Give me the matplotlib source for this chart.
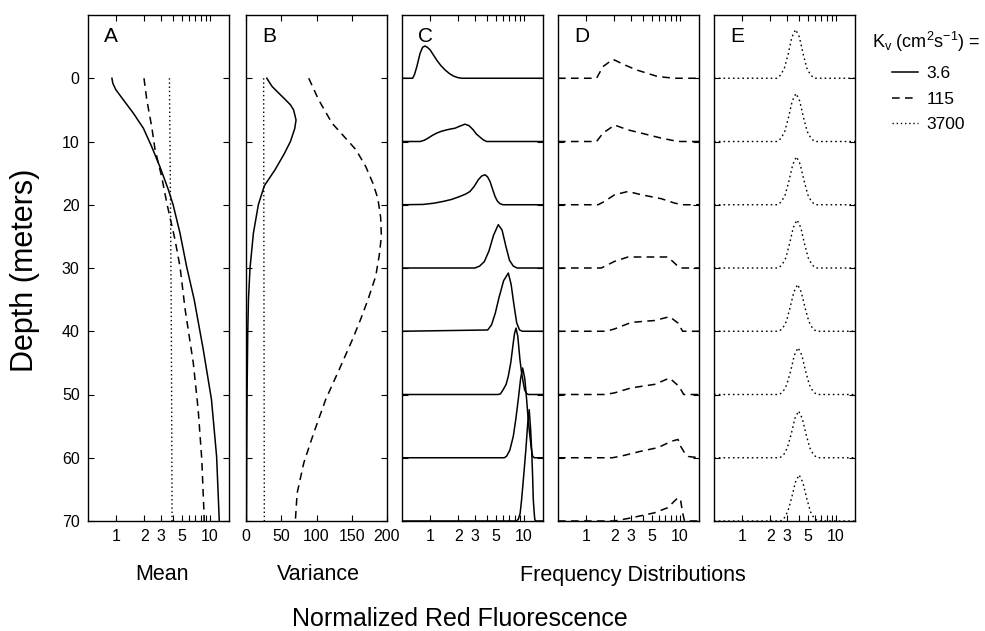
import matplotlib
matplotlib.use('Agg')
import matplotlib.pyplot as plt
from matplotlib.ticker import FixedLocator, NullLocator

plt.rcParams['font.family'] = ['Liberation Sans', 'DejaVu Sans']
plt.rcParams['mathtext.fontset'] = 'custom'
plt.rcParams['mathtext.rm'] = 'Liberation Sans'
plt.rcParams['mathtext.it'] = 'Liberation Sans:italic'

# ---------------- data ----------------
kv_labels = ['3.6', '115', '3700']
panel_letters = ['A', 'B', 'C', 'D', 'E']
depth_ticks = [0, 10, 20, 30, 40, 50, 60, 70]
log_ticks = [1, 2, 3, 4, 5, 6, 7, 8, 9, 10]
log_tick_labels = ['1', '2', '3', '', '5', '', '', '', '', '10']
var_ticks = [0, 50, 100, 150, 200]
var_tick_labels = ['0', '50', '100', '150', '200']

# Panel A: mean vs depth
mean_depth_36 = [0, 0.8, 1.8, 3.4, 5.5, 7.9, 10.8, 14, 17.6, 20, 24.5, 29.8, 35, 42.9, 50.8, 59.8, 70]
mean_val_36 = [0.9, 0.92, 0.99, 1.19, 1.52, 1.95, 2.39, 2.93, 3.6, 4.05, 4.8, 5.65, 6.8, 8.5, 10.4, 11.8, 12.6]
mean_depth_115 = [0, 3.4, 7.6, 11.3, 15.5, 20, 25.5, 29.8, 36.6, 45, 52.4, 60.3, 68.7, 70]
mean_val_115 = [1.98, 2.12, 2.39, 2.6, 3.05, 3.5, 4.24, 4.8, 5.45, 6.65, 7.5, 8.2, 8.65, 8.7]
mean_depth_3700 = [0, 20, 40, 70]
mean_val_3700 = [3.7, 3.8, 3.88, 3.95]

# Panel B: variance vs depth
var_depth_36 = [0, 1.3, 2.3, 3.4, 4.2, 5, 6.6, 8, 10, 12, 14.5, 17, 20, 24.5, 30, 35, 40, 50, 60, 70]
var_val_36 = [29.5, 37, 46, 56, 63, 67.5, 71, 69, 63, 54, 41, 26, 17.5, 10.5, 5.7, 3.5, 2.5, 1.5, 1, 0.7]
var_depth_115 = [0, 3.4, 7.1, 11.3, 14, 16.6, 19, 22, 25, 28, 31.3, 35, 38, 41.3, 46.1, 50.8, 56.1, 60.8, 65.6, 70]
var_val_115 = [89, 103, 122, 156, 170, 180, 187, 191, 192, 189, 184, 173, 163, 151, 132, 113, 96, 82, 72.5, 70]
var_depth_3700 = [0, 35, 70]
var_val_3700 = [25, 25.5, 26]

# Frequency distributions (baseline depths, x values, heights in depth units)
freq_depths = [0, 10, 20, 30, 40, 50, 60, 70]

c_x = [
    [0.5, 0.65, 0.68, 0.72, 0.78, 0.83, 0.88, 0.94, 1.0, 1.08, 1.17, 1.3, 1.44, 1.6, 1.76, 1.95, 2.17, 16],
    [0.5, 0.78, 0.86, 0.95, 1.05, 1.17, 1.32, 1.5, 1.66, 1.84, 2.05, 2.35, 2.6, 2.88, 3.1, 3.4, 3.7, 4.0, 16],
    [0.5, 0.84, 1.1, 1.38, 1.7, 2.08, 2.4, 2.66, 2.95, 3.26, 3.55, 3.85, 4.1, 4.35, 4.62, 4.92, 5.2, 5.56, 6.0, 16],
    [0.5, 3.0, 3.37, 3.78, 4.24, 4.75, 5.33, 5.85, 6.41, 7.03, 7.71, 8.45, 16],
    [0.5, 4.11, 4.51, 4.94, 5.42, 6.08, 6.82, 7.31, 7.83, 8.39, 9.0, 9.64, 16],
    [0.5, 5.3, 5.62, 6.03, 6.46, 6.82, 7.24, 7.71, 7.94, 8.24, 8.61, 9.08, 9.44, 9.86, 10.2, 10.7, 11.2, 16],
    [0.5, 6.2, 6.55, 7.08, 7.71, 8.22, 8.71, 9.23, 9.7, 10.23, 10.7, 11.2, 11.6, 12.0, 12.4, 12.9, 16],
    [0.5, 8.32, 8.71, 9.12, 9.46, 10.0, 10.5, 11.0, 11.4, 11.8, 12.1, 12.4, 12.6, 12.9, 13.1, 13.5, 16],
]
c_h = [
    [0, 0, 0.6, 1.84, 3.95, 4.9, 5.1, 4.85, 4.47, 3.7, 2.9, 2.0, 1.32, 0.75, 0.37, 0.12, 0, 0],
    [0, 0, 0.18, 0.53, 0.95, 1.32, 1.62, 1.84, 1.98, 2.1, 2.4, 2.74, 2.5, 1.84, 1.2, 0.69, 0.25, 0, 0],
    [0, 0.05, 0.25, 0.53, 0.85, 1.32, 1.7, 2.1, 2.9, 3.95, 4.55, 4.74, 4.4, 3.69, 2.5, 1.32, 0.6, 0.16, 0, 0],
    [0, 0, 0.3, 1.0, 2.7, 5.2, 6.85, 6.0, 3.5, 1.2, 0.3, 0, 0],
    [0, 0.2, 1.0, 2.8, 5.3, 8.0, 9.2, 7.4, 4.2, 1.3, 0.2, 0, 0],
    [0, 0, 0.1, 0.79, 1.6, 2.9, 5.0, 8.2, 9.6, 10.5, 9.2, 5.5, 3.5, 1.84, 0.7, 0.16, 0, 0],
    [0, 0, 0.26, 1.2, 3.4, 6.2, 9.2, 12.5, 14.2, 12.5, 9.2, 5.5, 3.4, 1.5, 0.26, 0, 0],
    [0, 0, 0.26, 1.2, 3.4, 7.5, 11.3, 15.5, 17.6, 14.5, 11.3, 7.0, 3.4, 1.2, 0.16, 0, 0],
]

d_x = [
    [0.5, 1.29, 1.51, 1.93, 2.58, 3.44, 5.83, 8.79, 16],
    [0.5, 1.29, 1.51, 2.01, 2.79, 3.88, 6.35, 9.55, 16],
    [0.5, 1.34, 1.57, 2.01, 2.79, 3.88, 6.35, 8.79, 10.7, 16],
    [0.5, 1.45, 2.01, 2.79, 4.57, 7.46, 9.55, 10.2, 16],
    [0.5, 1.64, 2.01, 3.03, 5.37, 7.76, 9.55, 10.7, 16],
    [0.5, 1.6, 2.01, 3.03, 5.37, 7.76, 9.77, 11.0, 16],
    [0.5, 1.9, 2.37, 3.88, 5.83, 8.13, 9.55, 10.2, 11.2, 12.3, 16],
    [0.5, 2.01, 3.03, 5.37, 7.41, 9.55, 10.2, 10.7, 11.2, 16],
]
d_h = [
    [0, 0, 1.84, 3.0, 2.1, 1.32, 0.26, 0, 0],
    [0, 0, 1.32, 2.6, 1.84, 1.32, 0.53, 0, 0],
    [0, 0, 0.53, 1.58, 2.1, 1.58, 0.95, 0.26, 0, 0],
    [0, 0, 1.05, 1.74, 1.74, 1.74, 0.26, 0, 0],
    [0, 0, 0.37, 1.4, 1.7, 2.3, 1.3, 0, 0],
    [0, 0, 0.26, 1.05, 1.6, 2.6, 1.3, 0, 0],
    [0, 0, 0.26, 1.05, 1.6, 2.6, 2.9, 1.8, 0.8, 0.2, 0],
    [0, 0, 0.5, 1.3, 2.1, 3.7, 3.2, 1.3, 0, 0],
]

e_x = [
    [0.5, 2.35, 2.57, 2.82, 3.10, 3.39, 3.72, 4.08, 4.47, 4.90, 5.38, 5.90, 16],
    [0.5, 2.37, 2.60, 2.85, 3.12, 3.42, 3.75, 4.11, 4.51, 4.94, 5.42, 5.94, 16],
    [0.5, 2.40, 2.63, 2.88, 3.16, 3.47, 3.80, 4.16, 4.57, 5.01, 5.49, 6.02, 16],
    [0.5, 2.43, 2.66, 2.92, 3.20, 3.51, 3.85, 4.22, 4.63, 5.07, 5.56, 6.10, 16],
    [0.5, 2.46, 2.70, 2.96, 3.24, 3.56, 3.90, 4.27, 4.69, 5.14, 5.64, 6.18, 16],
    [0.5, 2.49, 2.73, 2.99, 3.29, 3.60, 3.95, 4.33, 4.75, 5.21, 5.71, 6.26, 16],
    [0.5, 2.52, 2.77, 3.03, 3.33, 3.65, 4.00, 4.38, 4.81, 5.27, 5.78, 6.34, 16],
    [0.5, 2.56, 2.80, 3.07, 3.37, 3.69, 4.05, 4.44, 4.87, 5.34, 5.85, 6.42, 16],
]
e_h = [
    [0, 0, 0.5, 1.6, 3.85, 6.5, 7.7, 6.5, 3.85, 1.6, 0.5, 0, 0],
    [0, 0, 0.5, 1.6, 3.8, 6.4, 7.6, 6.4, 3.8, 1.6, 0.5, 0, 0],
    [0, 0, 0.5, 1.6, 3.8, 6.4, 7.6, 6.4, 3.8, 1.6, 0.5, 0, 0],
    [0, 0, 0.5, 1.6, 3.8, 6.4, 7.6, 6.4, 3.8, 1.6, 0.5, 0, 0],
    [0, 0, 0.45, 1.55, 3.7, 6.2, 7.4, 6.2, 3.7, 1.55, 0.45, 0, 0],
    [0, 0, 0.45, 1.55, 3.7, 6.2, 7.4, 6.2, 3.7, 1.55, 0.45, 0, 0],
    [0, 0, 0.45, 1.55, 3.7, 6.2, 7.4, 6.2, 3.7, 1.55, 0.45, 0, 0],
    [0, 0, 0.45, 1.5, 3.65, 6.1, 7.3, 6.1, 3.65, 1.5, 0.45, 0, 0],
]

# ---------------- styles ----------------
W, H = 985, 631
LW = 1.1
style_solid = dict(color='black', lw=LW, linestyle='-')
style_dash = dict(color='black', lw=LW, linestyle=(0, (5, 3.5)))
style_dot = dict(color='black', lw=1.0, linestyle=(0, (1, 2)))
style_dot_e = dict(color='black', lw=1.0, linestyle=(0, (1.2, 2.2)))

fig = plt.figure(figsize=(W / 100, H / 100), dpi=100)
lefts = [88, 246, 402, 558, 714]
ax_w = 141
top_px, bot_px = 15, 521

axes = []
for i, lp in enumerate(lefts):
    ax = fig.add_axes([lp / W, 1 - bot_px / H, ax_w / W, (bot_px - top_px) / H])
    ax.set_ylim(70, -10)
    ax.yaxis.set_major_locator(FixedLocator(depth_ticks))
    ax.yaxis.set_minor_locator(NullLocator())
    ax.tick_params(axis='both', which='both', direction='in', top=True, right=True,
                   length=4, width=0.8, labelsize=11.5, pad=6)
    if i > 0:
        ax.tick_params(axis='y', labelleft=False)
    for sp in ax.spines.values():
        sp.set_linewidth(1.0)
    if i == 1:
        ax.set_xlim(0, 200)
        ax.xaxis.set_major_locator(FixedLocator(var_ticks))
        ax.set_xticklabels(var_tick_labels)
    else:
        ax.set_xscale('log')
        ax.set_xlim(0.5, 16)
        ax.xaxis.set_major_locator(FixedLocator(log_ticks))
        ax.xaxis.set_minor_locator(NullLocator())
        ax.set_xticklabels(log_tick_labels)
    ax.text(0.115, 0.957, panel_letters[i], transform=ax.transAxes, fontsize=15,
            ha='left', va='center')
    axes.append(ax)

axA, axB, axC, axD, axE = axes

# Panel A
hA1, = axA.plot(mean_val_36, mean_depth_36, **style_solid)
hA2, = axA.plot(mean_val_115, mean_depth_115, **style_dash)
hA3, = axA.plot(mean_val_3700, mean_depth_3700, **style_dot)

# Panel B
axB.plot(var_val_36, var_depth_36, **style_solid)
axB.plot(var_val_115, var_depth_115, **style_dash)
axB.plot(var_val_3700, var_depth_3700, **style_dot)

# Panels C, D, E
for ax, xs, hs, st in [(axC, c_x, c_h, style_solid), (axD, d_x, d_h, style_dash),
                       (axE, e_x, e_h, style_dot_e)]:
    for d, xv, hv in zip(freq_depths, xs, hs):
        ax.plot(xv, [d - h for h in hv], **st)

# Labels
fig.text(25 / W, 1 - 270 / H, 'Depth (meters)', rotation=90, fontsize=22, ha='center', va='center')
fig.text(162 / W, 1 - 575 / H, 'Mean', fontsize=15.5, ha='center', va='center')
fig.text(318 / W, 1 - 575 / H, 'Variance', fontsize=15.5, ha='center', va='center')
fig.text(633 / W, 1 - 575 / H, 'Frequency Distributions', fontsize=15.5, ha='center', va='center')
fig.text(460 / W, 1 - 619 / H, 'Normalized Red Fluorescence', fontsize=18, ha='center', va='center')

# Legend
fig.text(872 / W, 1 - 42 / H, r'K$_\mathrm{v}$ (cm$^2$s$^{-1}$) =', fontsize=13, ha='left', va='center')
fig.legend([hA1, hA2, hA3], kv_labels, loc='upper left', bbox_to_anchor=(892 / W, 1 - 66 / H),
           frameon=False, fontsize=12.5, handlelength=1.5, handletextpad=0.5,
           labelspacing=0.6, borderpad=0, borderaxespad=0)

fig.savefig('out.png', dpi=100)
